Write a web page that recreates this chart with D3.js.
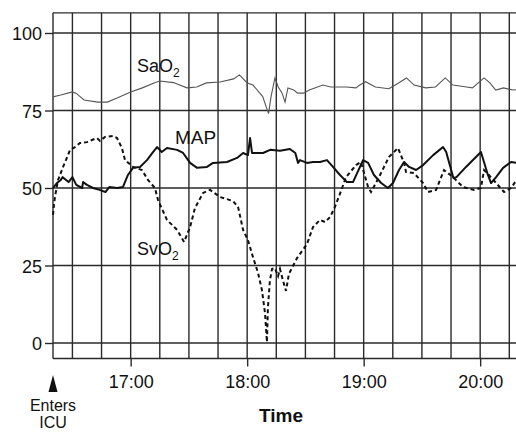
<!DOCTYPE html>
<html>
<head>
<meta charset="utf-8">
<script src="https://cdn.jsdelivr.net/npm/d3@7"></script>
<style>
  body { margin: 0; background: #fff; }
  svg text { font-family: "Liberation Sans", Arial, sans-serif; fill: #111; }
</style>
</head>
<body>
<svg id="canvas"></svg>
<script>
//--data: minutes after 16:00 and the value
const saTime = [20, 24, 30, 32, 36, 43, 48, 53, 60, 66, 72, 75, 82, 89, 94, 99, 106, 113, 116, 120, 123, 128, 131, 132.3, 134.3, 136, 138, 139.5, 141, 144, 146, 149, 152, 159, 163, 166, 171, 176, 178, 181, 186, 193, 198, 202, 206, 212, 217, 222, 226, 233, 236, 242, 245, 248, 252, 257, 260]
const saVal = [79.4, 80, 81, 80.5, 78.4, 77.7, 77.7, 79, 81, 82.3, 83.9, 84.5, 84, 82.3, 82.6, 83.9, 84.2, 85.2, 86.5, 83.9, 83.2, 79.5, 74, 79.5, 85.5, 82.6, 80.6, 77.7, 82.3, 81.6, 80.6, 80.6, 81.6, 83.2, 82.6, 82.6, 82.6, 82.3, 83.2, 84.3, 82.6, 82, 83.9, 85.5, 83.2, 82.3, 82.6, 85.5, 83.2, 82.6, 82.3, 85.5, 83.9, 81.6, 82.3, 81.6, 81.8]

const mapTime = [20, 22, 24, 25, 28, 30, 32, 35, 35.5, 37.5, 40.6, 44, 47, 49, 53, 56, 58.6, 61.2, 64.8, 68.4, 71.5, 73.6, 76, 78.7, 83.9, 87, 90.6, 94.2, 99.3, 102.4, 109.6, 114.8, 117.9, 120.4, 121.5, 122.5, 128.2, 131.8, 136.9, 142, 144.8, 146.2, 147.2, 150.8, 153.9, 157.5, 161.1, 164.2, 167.8, 171.4, 174.5, 179.7, 182.3, 185.3, 189, 192.5, 195.1, 198.2, 200.8, 203.4, 207, 210.6, 215.8, 220.9, 222.5, 226.2, 227.8, 232.7, 240.4, 244, 245.6, 248.2, 251.8, 255.9, 258.5]
const mapVal = [50, 51.6, 52.6, 53.5, 51.9, 53.5, 51, 50, 51.9, 51, 50, 49.4, 48.7, 50.3, 50, 50.3, 54.2, 56.5, 56.8, 59, 61.6, 63.2, 61.6, 62.9, 62.3, 61.3, 58.1, 56.5, 56.8, 58.1, 58.4, 59.7, 61.3, 60.6, 66.1, 61.3, 61.3, 62.3, 62, 62.6, 61.3, 58.1, 59, 58.1, 58.4, 58.4, 59, 56.8, 54.2, 51.9, 51.9, 59, 58.1, 54.2, 51.6, 50, 51.6, 55.8, 58.4, 56.8, 55.8, 57.4, 60.6, 63.2, 61.6, 53.2, 53.5, 56.8, 61.6, 54.2, 51.6, 53.5, 56.5, 58.4, 58.1]

const svTime = [20, 20.5, 21, 22.6, 25.2, 28.8, 31.3, 33.9, 37.5, 40.1, 42.7, 44.2, 46.8, 50.9, 53, 55.5, 57.1, 61.2, 65.8, 68.9, 72.5, 74.1, 78.7, 83.9, 87.5, 90.6, 93.1, 97.3, 100.9, 106, 112.7, 115.3, 117.9, 120.4, 123, 125.6, 127.6, 129.2, 130.2, 130.7, 131.7, 132.8, 134.3, 135.9, 136.9, 138.5, 140, 141.5, 145.7, 150.8, 153.9, 157.5, 160.1, 162.7, 165.2, 168.3, 170.9, 176.1, 178.6, 180.2, 182.3, 183.8, 187.9, 193, 197.7, 200.8, 201.8, 205.9, 210.6, 213.1, 217.3, 221.4, 226, 231.2, 236.8, 240.4, 242, 244.5, 248.2, 252.3, 255.9, 258]
const svVal = [41.3, 44.5, 47.1, 52.6, 56.8, 62.3, 63.2, 64.5, 64.8, 65.5, 66.1, 65.2, 66.5, 66.8, 66.1, 62.9, 59, 56.8, 55.8, 52.6, 50, 46.1, 39.7, 36.5, 32.6, 37.4, 43.5, 48.4, 49.4, 47.1, 45.8, 43.9, 36.5, 33.2, 27.7, 22.6, 17.1, 9.7, 0.3, 11.3, 20, 23.9, 24.2, 21.6, 23.9, 20, 16.8, 22.3, 27.4, 31.9, 37.4, 39.7, 39, 40.6, 43.9, 49, 53.5, 57.4, 58.4, 54.8, 50.3, 48.7, 53.5, 60, 62.9, 58.1, 55.2, 54.8, 51.6, 48.7, 49.4, 55.8, 53.5, 50.3, 49.4, 50, 55.8, 54.2, 51.6, 48.7, 50, 51.9]

const yTicks = [0, 25, 50, 75, 100]
//--

//--canvas
let width = 516;
let height = 432;
let canvas = d3.select("#canvas").attr("width", width).attr("height", height)

let toDate = m => new Date(2000, 0, 1, 16, 0, m * 60)

let xScale = d3.scaleTime()
               .domain([toDate(20), toDate(260)])
               .range([53, 519])
let yScale = d3.scaleLinear()
               .domain([0, 100])
               .range([343, 33])

let plotTop = yScale(106.5)
let plotBottom = yScale(-5)
//--

//--grid
let grid = canvas.append('g').attr('stroke', '#2a2a2a').attr('stroke-width', 1.4)

grid.selectAll('.vline')
    .data(d3.timeMinute.every(15).range(toDate(21), toDate(260)))
    .enter()
    .append('line')
    .attr('class', 'vline')
    .attr('x1', d => xScale(d))
    .attr('x2', d => xScale(d))
    .attr('y1', plotTop)
    .attr('y2', plotBottom)

grid.selectAll('.hline')
    .data(yTicks)
    .enter()
    .append('line')
    .attr('class', 'hline')
    .attr('x1', 53)
    .attr('x2', width)
    .attr('y1', d => yScale(d))
    .attr('y2', d => yScale(d))

// plot frame: left, top, bottom
grid.append('line').attr('x1', 53).attr('x2', 53).attr('y1', plotTop).attr('y2', plotBottom)
grid.append('line').attr('x1', 53).attr('x2', width).attr('y1', plotTop).attr('y2', plotTop)
grid.append('line').attr('x1', 53).attr('x2', width).attr('y1', plotBottom).attr('y2', plotBottom)
//--

//--axes
let yAxis = canvas.append('g')
                  .attr('transform', 'translate(53,0)')
                  .call(d3.axisLeft(yScale).tickValues(yTicks).tickSize(8).tickPadding(3))
yAxis.select('.domain').remove()
yAxis.selectAll('line').attr('stroke', '#2a2a2a').attr('stroke-width', 1.4)
yAxis.selectAll('text').attr('font-size', 18).attr('dy', '0.38em').attr('fill', '#111')

let xAxis = canvas.append('g')
                  .attr('transform', 'translate(0,' + plotBottom + ')')
                  .call(d3.axisBottom(xScale)
                          .ticks(d3.timeHour.every(1))
                          .tickFormat(d3.timeFormat('%H:%M'))
                          .tickSize(8)
                          .tickPadding(9))
xAxis.select('.domain').remove()
xAxis.selectAll('line').attr('stroke', '#2a2a2a').attr('stroke-width', 1.4)
xAxis.selectAll('text').attr('font-size', 18).attr('fill', '#111')

canvas.append('text')
      .attr('x', 281).attr('y', 422)
      .attr('text-anchor', 'middle')
      .attr('font-size', 19)
      .attr('font-weight', 'bold')
      .text('Time')

// "Enters ICU" marker
canvas.append('path')
      .attr('d', 'M53,375 L48.5,392 L57.5,392 Z')
      .attr('fill', '#111')
canvas.append('text').attr('x', 53).attr('y', 411).attr('text-anchor', 'middle').attr('font-size', 16).text('Enters')
canvas.append('text').attr('x', 53).attr('y', 428).attr('text-anchor', 'middle').attr('font-size', 16).text('ICU')
//--

//--series
let line = d3.line()
             .x(d => xScale(toDate(d[0])))
             .y(d => yScale(d[1]))

canvas.append('path')
      .datum(d3.zip(saTime, saVal))
      .attr('d', line)
      .attr('fill', 'none')
      .attr('stroke', '#555')
      .attr('stroke-width', 1.1)

canvas.append('path')
      .datum(d3.zip(mapTime, mapVal))
      .attr('d', line)
      .attr('fill', 'none')
      .attr('stroke', '#111')
      .attr('stroke-width', 2)
      .attr('stroke-linejoin', 'round')

canvas.append('path')
      .datum(d3.zip(svTime, svVal))
      .attr('d', line)
      .attr('fill', 'none')
      .attr('stroke', '#111')
      .attr('stroke-width', 2)
      .attr('stroke-dasharray', '4,3')
//--

//--series labels
let sub = (x, y, main, s) => {
    let t = canvas.append('text').attr('x', x).attr('y', y).attr('font-size', 18)
    t.append('tspan').text(main)
    t.append('tspan').attr('font-size', 12).attr('dy', 5).text(s)
}
sub(137, 72, 'SaO', '2')
sub(137, 255, 'SvO', '2')
canvas.append('text').attr('x', 175).attr('y', 144).attr('font-size', 19).text('MAP')
//--
</script>
</body>
</html>
